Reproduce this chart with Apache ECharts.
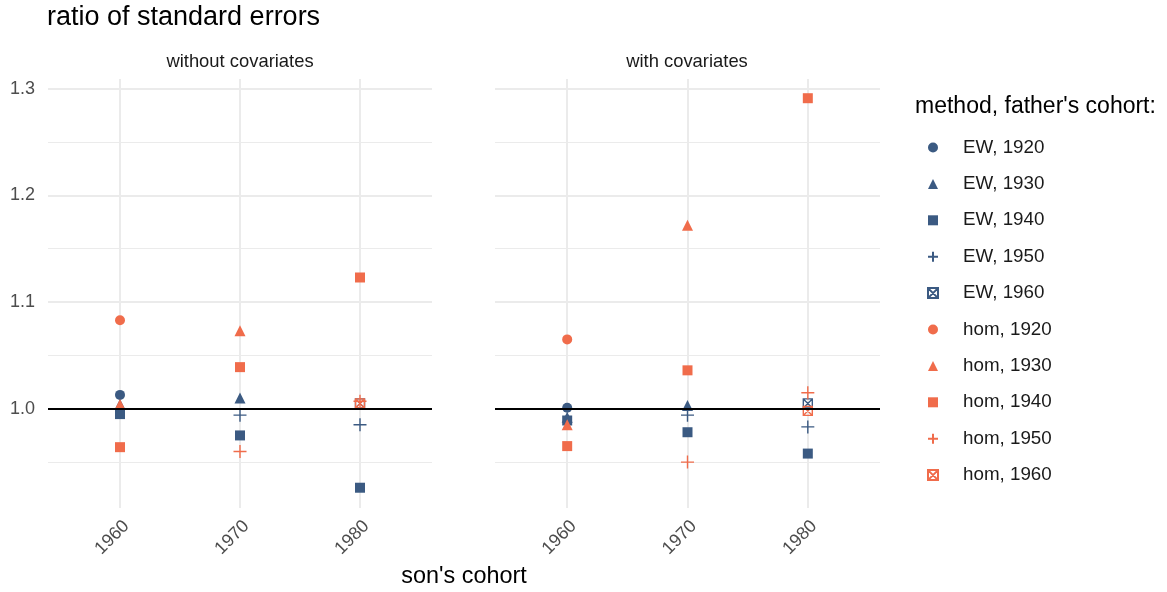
<!DOCTYPE html>
<html>
<head>
<meta charset="utf-8">
<script src="https://cdn.jsdelivr.net/npm/echarts@6/dist/echarts.min.js"></script>
<style>
html,body{margin:0;padding:0;background:#fff;}
#chart{width:1167px;height:592px;}
</style>
</head>
<body>
<div id="chart"></div>
<script>
// ---- data ----
const sonsCohort = [1960, 1970, 1980];
const yTicks = [1.0, 1.1, 1.2, 1.3];
const yMinor = [0.95, 1.05, 1.15, 1.25];
const refLine = 1.0;
const panels = ["without covariates", "with covariates"];
const seriesNames = ["EW, 1920","EW, 1930","EW, 1940","EW, 1950","EW, 1960",
                     "hom, 1920","hom, 1930","hom, 1940","hom, 1950","hom, 1960"];

// without covariates (values at son's cohort 1960, 1970, 1980)
const woEW1920  = [1.013, null, null];
const woEW1930  = [1.004, 1.010, null];
const woEW1940  = [0.995, 0.975, 0.926];
const woEW1950  = [null, 0.994, 0.985];
const woEW1960  = [null, null, 1.005];
const woHom1920 = [1.083, null, null];
const woHom1930 = [1.004, 1.073, null];
const woHom1940 = [0.964, 1.039, 1.123];
const woHom1950 = [null, 0.960, 1.007];
const woHom1960 = [null, null, 1.005];

// with covariates
const wEW1920  = [1.001, null, null];
const wEW1930  = [0.992, 1.003, null];
const wEW1940  = [0.989, 0.978, 0.958];
const wEW1950  = [null, 0.994, 0.983];
const wEW1960  = [null, null, 1.005];
const wHom1920 = [1.065, null, null];
const wHom1930 = [0.985, 1.172, null];
const wHom1940 = [0.965, 1.036, 1.291];
const wHom1950 = [null, 0.950, 1.015];
const wHom1960 = [null, null, 0.998];

const panelData = [
  [woEW1920, woEW1930, woEW1940, woEW1950, woEW1960, woHom1920, woHom1930, woHom1940, woHom1950, woHom1960],
  [wEW1920, wEW1930, wEW1940, wEW1950, wEW1960, wHom1920, wHom1930, wHom1940, wHom1950, wHom1960]
];

// ---- styles ----
const BLUE = '#3b5a82';
const ORANGE = '#f06c4b';
const FONT = 'Liberation Sans, Arial, sans-serif';
const PLUS = 'path://M50,0V100M0,50H100';
const BOXX = 'path://M0,0H100V100H0Z M0,0L100,100 M100,0L0,100';
const shapeStyles = [
  {symbol:'circle', size:10, stroke:false},
  {symbol:'triangle', size:11, stroke:false},
  {symbol:'rect', size:10, stroke:false},
  {symbol:PLUS, size:13, stroke:true},
  {symbol:BOXX, size:9, stroke:true}
];

const grids = [
  {left:48, top:79, width:384, height:429},
  {left:495, top:79, width:385, height:429}
];

const xAxes = grids.map((g,i)=>({
  gridIndex:i, type:'value', min:1954, max:1986,
  axisLine:{show:false}, axisTick:{show:false}, splitLine:{show:false},
  axisLabel:{customValues:sonsCohort, rotate:45, margin:9, verticalAlign:'top', color:'#4d4d4d', fontSize:18, fontFamily:FONT,
             formatter:v=>String(v)}
}));
const yAxes = grids.map((g,i)=>({
  gridIndex:i, type:'value', min:0.907, max:1.309,
  axisLine:{show:false}, axisTick:{show:false}, splitLine:{show:false},
  axisLabel:{show:i===0, customValues:yTicks, color:'#4d4d4d', fontSize:18, fontFamily:FONT, margin:13,
             formatter:v=>v.toFixed(1)}
}));

const series = [];
panels.forEach((p,pi)=>{
  // gridlines (under points)
  series.push({
    type:'line', xAxisIndex:pi, yAxisIndex:pi, data:[], silent:true, z:1,
    markLine:{
      silent:true, z:1, symbol:['none','none'], animation:false, label:{show:false},
      emphasis:{disabled:true},
      data: [
        ...yMinor.map(v=>({yAxis:v, lineStyle:{color:'#ebebeb', width:1, type:'solid'}})),
        ...yTicks.map(v=>({yAxis:v, lineStyle:{color:'#ebebeb', width:2, type:'solid'}})),
        ...sonsCohort.map(v=>({xAxis:v, lineStyle:{color:'#ebebeb', width:2, type:'solid'}}))
      ]
    }
  });
  seriesNames.forEach((name,si)=>{
    const sh = shapeStyles[si%5];
    const col = si<5 ? BLUE : ORANGE;
    const vals = panelData[pi][si];
    series.push({
      type:'scatter', name:name, xAxisIndex:pi, yAxisIndex:pi, z:3,
      symbol:sh.symbol, symbolSize:sh.size,
      itemStyle: sh.stroke ? {color:'rgba(0,0,0,0)', borderColor:col, borderWidth:1.4, opacity:1}
                           : {color:col, borderWidth:0, opacity:1},
      data: sonsCohort.map((x,k)=>vals[k]==null?null:[x, vals[k]]).filter(d=>d),
      animation:false
    });
  });
  // reference line (drawn over points)
  series.push({
    type:'line', xAxisIndex:pi, yAxisIndex:pi, data:[], silent:true, z:5,
    markLine:{
      silent:true, z:5, symbol:['none','none'], animation:false, label:{show:false},
      emphasis:{disabled:true},
      data:[{yAxis:refLine, lineStyle:{color:'#000000', width:2, type:'solid'}}]
    }
  });
});

const chart = echarts.init(document.getElementById('chart'), null, {renderer:'canvas'});
chart.setOption({
  backgroundColor:'#ffffff',
  animation:false,
  textStyle:{fontFamily:FONT},
  grid:grids,
  xAxis:xAxes,
  yAxis:yAxes,
  legend:{
    data:seriesNames, orient:'vertical', left:922, top:133,
    itemWidth:10, itemHeight:10, itemGap:17.4, selectedMode:false,
    textStyle:{fontSize:18.8, lineHeight:16, color:'#1a1a1a', fontFamily:FONT, padding:[0,0,0,20]}
  },
  graphic:[
    {type:'text', x:47, y:18, style:{text:'ratio of standard errors', fontSize:27, fill:'#000', fontFamily:FONT, textVerticalAlign:'middle'}},
    {type:'text', x:240, y:62, style:{text:panels[0], fontSize:18.4, fill:'#1a1a1a', fontFamily:FONT, textAlign:'center', textVerticalAlign:'middle'}},
    {type:'text', x:687, y:62, style:{text:panels[1], fontSize:18.4, fill:'#1a1a1a', fontFamily:FONT, textAlign:'center', textVerticalAlign:'middle'}},
    {type:'text', x:464, y:577, style:{text:"son's cohort", fontSize:23.4, fill:'#000', fontFamily:FONT, textAlign:'center', textVerticalAlign:'middle'}},
    {type:'text', x:915, y:107, style:{text:"method, father's cohort:", fontSize:23, fill:'#000', fontFamily:FONT, textAlign:'left', textVerticalAlign:'middle'}}
  ],
  series:series
});
</script>
</body>
</html>
